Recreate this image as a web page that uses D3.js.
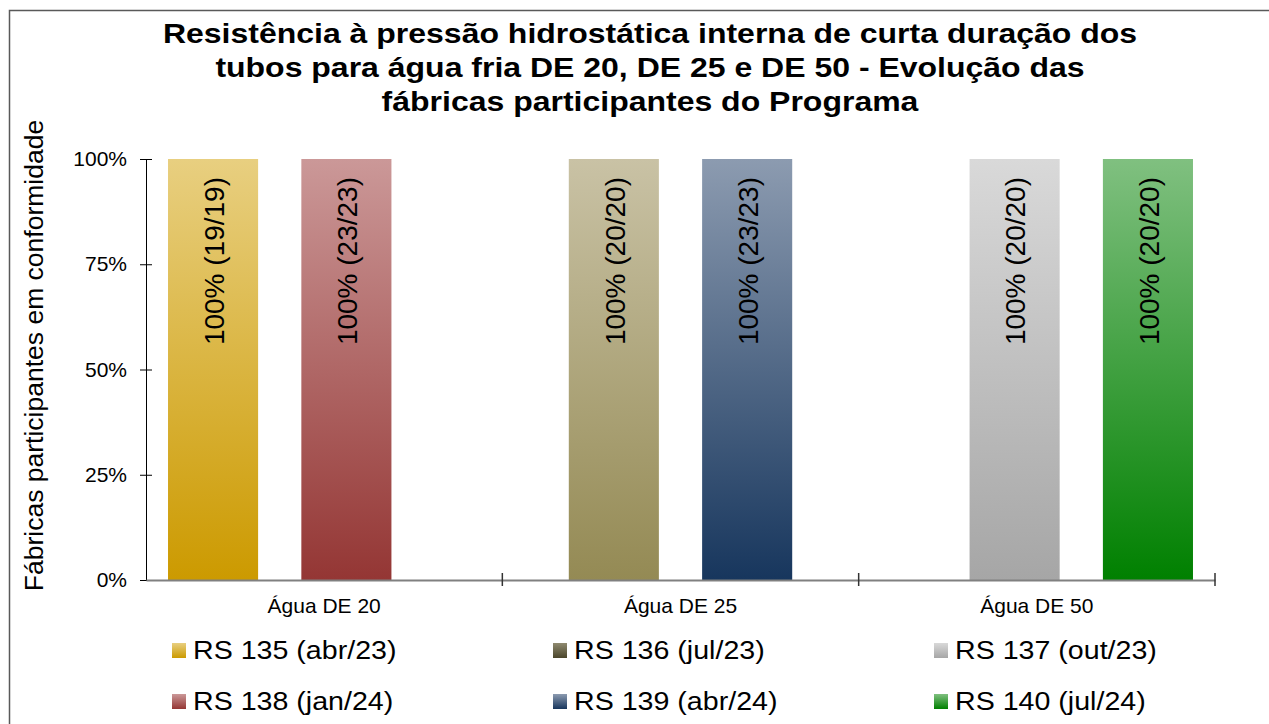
<!DOCTYPE html>
<html>
<head>
<meta charset="utf-8">
<script src="https://cdn.jsdelivr.net/npm/d3@7"></script>
<style>
  body { margin: 0; background: #fff; }
  svg { display: block; font-family: "Liberation Sans", Arial, sans-serif; }
</style>
</head>
<body>
<svg id="chart" width="1269" height="724"></svg>
<script>
// data
const categories = ["Água DE 20", "Água DE 25", "Água DE 50"];
const seriesNames = ["RS 135 (abr/23)", "RS 136 (jul/23)", "RS 137 (out/23)", "RS 138 (jan/24)", "RS 139 (abr/24)", "RS 140 (jul/24)"];
// which category each series has a value in, and its value
const seriesCategory = ["Água DE 20", "Água DE 25", "Água DE 50", "Água DE 20", "Água DE 25", "Água DE 50"];
const seriesValues = [1, 1, 1, 1, 1, 1];
const seriesCounts = ["19/19", "20/20", "20/20", "23/23", "23/23", "20/20"];
const yTicks = [0, 0.25, 0.5, 0.75, 1];
const titleLines = [
    "Resistência à pressão hidrostática interna de curta duração dos",
    "tubos para água fria DE 20, DE 25 e DE 50 - Evolução das",
    "fábricas participantes do Programa"
];
const yTitle = "Fábricas participantes em conformidade";

// gradient colours, top -> bottom
const colorsTop = ["#e8cf80", "#c9c2a5", "#d9d9d9", "#cb9898", "#8c9bb0", "#80c080"];
const colorsBottom = ["#cc9a00", "#948a54", "#a6a6a6", "#943634", "#17365d", "#008000"];
// legend swatch for RS 136 is darker in the original
const legendTop = ["#e8cf80", "#8f8a70", "#d9d9d9", "#cb9898", "#8c9bb0", "#80c080"];
const legendBottom = ["#cc9a00", "#4a452a", "#a6a6a6", "#943634", "#17365d", "#008000"];

const svg = d3.select("#chart");

// outer frame (only left and top are visible)
svg.append("rect")
    .attr("x", 9.5).attr("y", 10.5)
    .attr("width", 1400).attr("height", 900)
    .attr("fill", "none")
    .attr("stroke", "#595959")
    .attr("stroke-width", 1.5);

// gradients
const defs = svg.append("defs");
function addGradient(id, top, bottom) {
    const g = defs.append("linearGradient")
        .attr("id", id)
        .attr("x1", 0).attr("y1", 0).attr("x2", 0).attr("y2", 1);
    g.append("stop").attr("offset", "0%").attr("stop-color", top);
    g.append("stop").attr("offset", "100%").attr("stop-color", bottom);
}
seriesNames.forEach((s, i) => {
    addGradient("grad" + i, colorsTop[i], colorsBottom[i]);
    addGradient("lgrad" + i, legendTop[i], legendBottom[i]);
});

// plot area
const plot = {left: 146, right: 1215, top: 159, bottom: 580};

const xScale = d3.scaleBand()
    .domain(categories)
    .range([plot.left, plot.right])
    .padding(0);
const bw = xScale.bandwidth();

// series sit inside each category, overlapping slots like excel
const barWidth = bw * 90 / 356;
const seriesScale = d3.scalePoint()
    .domain(seriesNames)
    .range([bw * 22 / 356, bw * 244 / 356]);

const yScale = d3.scaleLinear()
    .domain([0, 1])
    .range([plot.bottom, plot.top]);

// title (original text is a bit wider than the font, so stretch it)
const title = svg.append("text")
    .attr("transform", "translate(650,0) scale(1.185,1)")
    .attr("text-anchor", "middle")
    .attr("font-size", "27px")
    .attr("font-weight", "bold")
    .attr("fill", "#000");
titleLines.forEach((t, i) => {
    title.append("tspan")
        .attr("x", 0)
        .attr("y", 43 + i * 34)
        .text(t);
});

// y axis
const yAxis = svg.append("g")
    .attr("transform", `translate(${plot.left},0)`)
    .call(d3.axisLeft(yScale)
        .tickValues(yTicks)
        .tickFormat(d3.format(".0%"))
        .tickSizeInner(6)
        .tickSizeOuter(0));
yAxis.select(".domain").attr("stroke", "#000");
yAxis.selectAll(".tick line").attr("x2", 6).attr("x1", -6).attr("stroke", "#000");
yAxis.selectAll(".tick text")
    .attr("x", -19)
    .attr("font-size", "21px")
    .attr("font-family", "Liberation Sans, Arial, sans-serif")
    .attr("fill", "#000");

// y axis title
svg.append("text")
    .attr("transform", `translate(43, ${(plot.top + plot.bottom) / 2 - 14}) rotate(-90)`)
    .attr("text-anchor", "middle")
    .attr("font-size", "26.5px")
    .attr("fill", "#000")
    .text(yTitle);

// bars
const bars = seriesNames.map((s, i) => ({
    name: s,
    idx: i,
    cat: seriesCategory[i],
    value: seriesValues[i],
    count: seriesCounts[i]
}));

svg.selectAll("rect.bar")
    .data(bars)
    .enter()
    .append("rect")
    .attr("class", "bar")
    .attr("x", d => xScale(d.cat) + seriesScale(d.name))
    .attr("y", d => yScale(d.value))
    .attr("width", barWidth)
    .attr("height", d => yScale(0) - yScale(d.value))
    .attr("fill", d => `url(#grad${d.idx})`);

// bar labels
svg.selectAll("text.lbl")
    .data(bars)
    .enter()
    .append("text")
    .attr("class", "lbl")
    .attr("transform", d => `translate(${xScale(d.cat) + seriesScale(d.name) + barWidth / 2 + 1}, ${yScale(d.value) + 18}) rotate(-90)`)
    .attr("text-anchor", "end")
    .attr("dy", "0.35em")
    .attr("font-size", "28px")
    .attr("fill", "#000")
    .text(d => `${d3.format(".0%")(d.value)} (${d.count})`);

// x axis
const xAxis = svg.append("g")
    .attr("transform", `translate(0,${plot.bottom})`)
    .call(d3.axisBottom(xScale).tickSize(0).tickSizeOuter(0));
xAxis.select(".domain").attr("stroke", "#808080").attr("stroke-width", 2);
xAxis.selectAll(".tick text")
    .attr("y", 19)
    .attr("dy", "0.71em")
    .attr("font-size", "20px")
    .attr("font-family", "Liberation Sans, Arial, sans-serif")
    .attr("fill", "#000")
    .attr("transform", "scale(1.05,1)");

// category separator ticks
xAxis.selectAll("line.sep")
    .data(categories)
    .enter()
    .append("line")
    .attr("class", "sep")
    .attr("x1", d => xScale(d) + bw)
    .attr("x2", d => xScale(d) + bw)
    .attr("y1", -7)
    .attr("y2", 6)
    .attr("stroke", "#333")
    .attr("stroke-width", 1.5);

// legend: 3 columns, 2 rows
const legend = svg.append("g");
const legendItems = legend.selectAll("g")
    .data(bars)
    .enter()
    .append("g")
    .attr("transform", (d, i) => `translate(${172 + (i % 3) * 381}, ${643 + Math.floor(i / 3) * 51})`);

legendItems.append("rect")
    .attr("width", 14)
    .attr("height", 15)
    .attr("fill", d => `url(#lgrad${d.idx})`);

legendItems.append("text")
    .attr("transform", "translate(21,16) scale(1.1,1)")
    .attr("font-size", "26px")
    .attr("fill", "#000")
    .text(d => d.name);
</script>
</body>
</html>
